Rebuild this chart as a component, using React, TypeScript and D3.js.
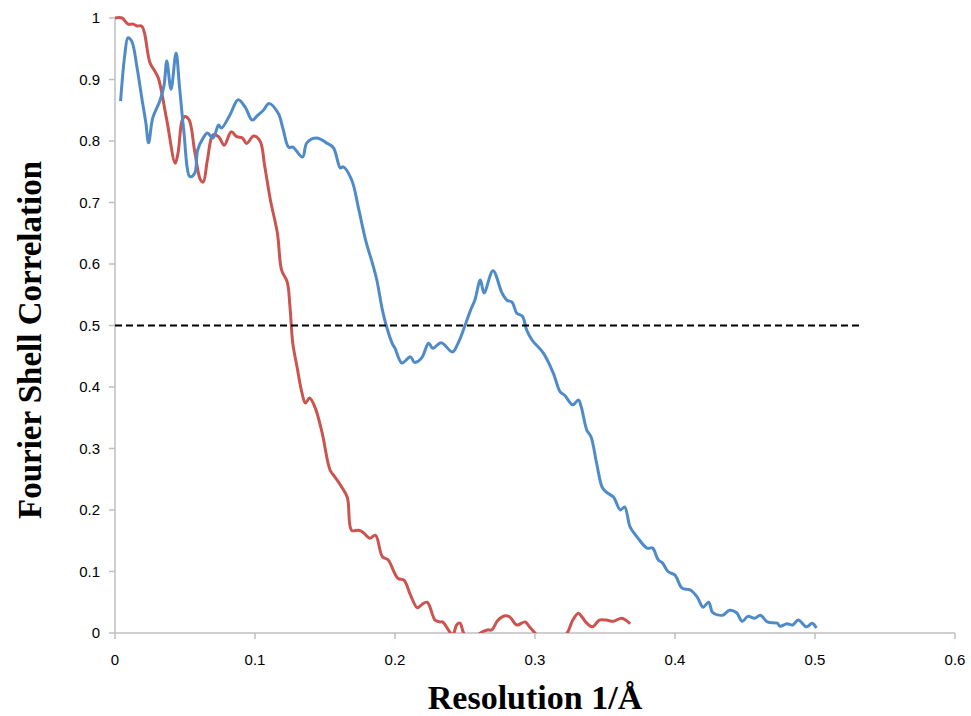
import React from 'react';
import * as d3 from 'd3';

// Fourier shell correlation curves
const blueRes = [
  0.004, 0.007, 0.0093, 0.012, 0.0157, 0.019, 0.022, 0.024, 0.027, 0.032, 0.035, 0.037, 0.04, 0.0436,
  0.046, 0.049, 0.0536, 0.057, 0.059, 0.063, 0.066, 0.07, 0.074, 0.076, 0.082, 0.088, 0.093, 0.098,
  0.102, 0.106, 0.11, 0.1166, 0.12, 0.124, 0.127, 0.134, 0.137, 0.144, 0.151, 0.156, 0.161, 0.163,
  0.169, 0.174, 0.179, 0.184, 0.187, 0.191, 0.194, 0.198, 0.2, 0.205, 0.211, 0.214, 0.219, 0.224,
  0.227, 0.233, 0.241, 0.245, 0.25, 0.254, 0.257, 0.261, 0.2636, 0.27, 0.2764, 0.28, 0.2836, 0.287,
  0.291, 0.294, 0.298, 0.306, 0.313, 0.318, 0.321, 0.327, 0.331, 0.333, 0.337, 0.34, 0.344, 0.348,
  0.351, 0.356, 0.361, 0.364, 0.368, 0.373, 0.38, 0.384, 0.388, 0.391, 0.395, 0.4, 0.405, 0.411,
  0.416, 0.42, 0.424, 0.427, 0.434, 0.439, 0.444, 0.448, 0.452, 0.457, 0.461, 0.466, 0.473, 0.475,
  0.48, 0.484, 0.488, 0.494, 0.498, 0.501,
];
const blueFsc = [
  0.865, 0.94, 0.968, 0.962, 0.92, 0.872, 0.83, 0.797, 0.838, 0.865, 0.89, 0.93, 0.884, 0.943,
  0.89, 0.82, 0.742, 0.748, 0.785, 0.805, 0.813, 0.805, 0.826, 0.821, 0.842, 0.867, 0.855, 0.834,
  0.842, 0.85, 0.861, 0.845, 0.82, 0.79, 0.79, 0.774, 0.797, 0.805, 0.797, 0.789, 0.756, 0.758,
  0.737, 0.69, 0.639, 0.6, 0.574, 0.525, 0.498, 0.471, 0.463, 0.439, 0.449, 0.44, 0.447, 0.471,
  0.463, 0.472, 0.457, 0.471, 0.5, 0.525, 0.541, 0.574, 0.553, 0.589, 0.553, 0.541, 0.538, 0.52,
  0.515, 0.493, 0.476, 0.455, 0.423, 0.392, 0.387, 0.371, 0.379, 0.368, 0.33, 0.319, 0.276, 0.237,
  0.229, 0.221, 0.2, 0.205, 0.172, 0.156, 0.138, 0.138, 0.119, 0.114, 0.1, 0.094, 0.073, 0.07,
  0.058, 0.042, 0.05, 0.033, 0.029, 0.037, 0.033, 0.019, 0.027, 0.024, 0.029, 0.018, 0.016, 0.011,
  0.015, 0.013, 0.021, 0.01, 0.016, 0.008,
];

const redRes = [
  0.0, 0.005, 0.0093, 0.013, 0.0157, 0.019, 0.021, 0.025, 0.0286, 0.031, 0.037, 0.043, 0.045, 0.048,
  0.05, 0.053, 0.057, 0.061, 0.063, 0.066, 0.07, 0.074, 0.078, 0.083, 0.087, 0.091, 0.094, 0.099,
  0.1036, 0.107, 0.111, 0.116, 0.119, 0.123, 0.125, 0.127, 0.13, 0.1336, 0.136, 0.139, 0.143, 0.148,
  0.1536, 0.157, 0.162, 0.166, 0.169, 0.174, 0.177, 0.182, 0.186, 0.191, 0.195, 0.202, 0.2064, 0.211,
  0.216, 0.219, 0.223, 0.2286, 0.232, 0.234, 0.239, 0.2414, 0.244, 0.2464, 0.249, 0.253, 0.257, 0.261,
  0.266, 0.269, 0.2736, 0.2786, 0.282, 0.287, 0.293, 0.296, 0.3, 0.305, 0.312, 0.318, 0.323, 0.327,
  0.331, 0.3336, 0.337, 0.341, 0.346, 0.351, 0.356, 0.362, 0.368,
];
const redFsc = [
  1.0, 1.0, 0.99, 0.99, 0.987, 0.987, 0.976, 0.927, 0.913, 0.902, 0.834, 0.764, 0.78, 0.834,
  0.84, 0.834, 0.782, 0.737, 0.733, 0.769, 0.81, 0.807, 0.793, 0.815, 0.807, 0.805, 0.796, 0.808,
  0.8, 0.758, 0.704, 0.65, 0.59, 0.571, 0.53, 0.471, 0.433, 0.39, 0.374, 0.382, 0.366, 0.325,
  0.265, 0.254, 0.237, 0.22, 0.167, 0.167, 0.164, 0.154, 0.159, 0.124, 0.119, 0.089, 0.086, 0.062,
  0.041, 0.046, 0.05, 0.021, 0.018, 0.018, 0.002, -0.003, 0.013, 0.016, 0.0, -0.012, -0.01, 0.0,
  0.005, 0.005, 0.021, 0.028, 0.026, 0.013, 0.018, 0.01, 0.0, -0.012, -0.018, -0.01, 0.0, 0.021,
  0.032, 0.026, 0.016, 0.01, 0.021, 0.021, 0.019, 0.024, 0.015,
];

const threshold = 0.5;
const thresholdEnd = 0.5336;
const xTicks = [0, 0.1, 0.2, 0.3, 0.4, 0.5, 0.6];
const yTicks = [0, 0.1, 0.2, 0.3, 0.4, 0.5, 0.6, 0.7, 0.8, 0.9, 1];

const width = 971;
const height = 716;
const margin = { top: 18, right: 16, bottom: 83, left: 115 };

export default function App() {
  const x = d3.scaleLinear().domain([0, 0.6]).range([margin.left, width - margin.right]);
  const y = d3.scaleLinear().domain([0, 1]).range([height - margin.bottom, margin.top]);

  const line = d3
    .line<[number, number]>()
    .x((d) => x(d[0]))
    .y((d) => y(d[1]))
    .curve(d3.curveCatmullRom.alpha(0.5));

  const blue = blueRes.map((r, i) => [r, blueFsc[i]] as [number, number]);
  const red = redRes.map((r, i) => [r, redFsc[i]] as [number, number]);

  const axisColor = '#bfbfbf';
  const tickFont = '"Liberation Sans Narrow", "Arial Narrow", "Liberation Sans", Arial, sans-serif';
  const titleFont = '"Liberation Serif", "Times New Roman", serif';

  return (
    <svg
      width={width}
      height={height}
      style={{ position: 'absolute', left: 0, top: 0, background: '#fff' }}
    >
      <defs>
        <clipPath id='plot-clip'>
          <rect x={0} y={0} width={width} height={y(0)} />
        </clipPath>
      </defs>

      {/* y axis */}
      <line x1={x(0)} x2={x(0)} y1={y(1)} y2={y(0)} stroke={axisColor} strokeWidth={1.5} />
      {yTicks.map((t) => (
        <g key={'y' + t}>
          <line x1={x(0) - 6} x2={x(0)} y1={y(t)} y2={y(t)} stroke={axisColor} strokeWidth={1.5} />
          <text
            x={x(0) - 15}
            y={y(t)}
            dy='0.35em'
            textAnchor='end'
            fontFamily={tickFont}
            fontSize={15}
            fill='#000'
          >
            {t}
          </text>
        </g>
      ))}

      {/* x axis */}
      <line x1={x(0)} x2={x(0.6)} y1={y(0)} y2={y(0)} stroke={axisColor} strokeWidth={1.5} />
      {xTicks.map((t) => (
        <g key={'x' + t}>
          <line x1={x(t)} x2={x(t)} y1={y(0)} y2={y(0) + 6} stroke={axisColor} strokeWidth={1.5} />
          <text
            x={x(t)}
            y={y(0) + 32}
            textAnchor='middle'
            fontFamily={tickFont}
            fontSize={15}
            fill='#000'
          >
            {t}
          </text>
        </g>
      ))}

      {/* curves */}
      <g clipPath='url(#plot-clip)' fill='none' strokeWidth={3} strokeLinejoin='round'>
        <path d={line(red) ?? ''} stroke='#cc5450' />
        <path d={line(blue) ?? ''} stroke='#4f8bc9' />
      </g>

      {/* 0.5 threshold */}
      <line
        x1={x(0)}
        x2={x(thresholdEnd)}
        y1={y(threshold)}
        y2={y(threshold)}
        stroke='#000'
        strokeWidth={2}
        strokeDasharray='7,4'
      />

      {/* axis titles */}
      <text
        x={535}
        y={709}
        textAnchor='middle'
        fontFamily={titleFont}
        fontWeight='bold'
        fontSize={34}
      >
        Resolution 1/Å
      </text>
      <text
        transform='translate(41, 340) rotate(-90)'
        textAnchor='middle'
        fontFamily={titleFont}
        fontWeight='bold'
        fontSize={33}
      >
        Fourier Shell Correlation
      </text>
    </svg>
  );
}
